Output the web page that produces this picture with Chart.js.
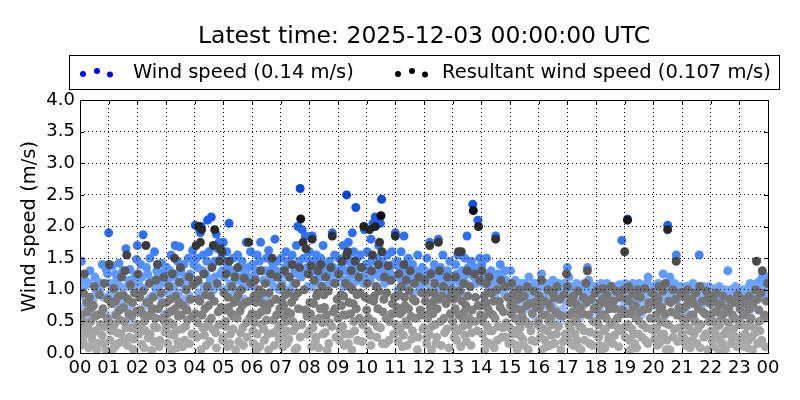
<!DOCTYPE html>
<html lang="en">
<head>
<meta charset="UTF-8">
<title>Wind speed</title>
<script src="https://cdn.jsdelivr.net/npm/chart.js"></script>
<style>
    body { margin: 0; background: #fff; }
    canvas { display: block; }
</style>
</head>
<body>
<canvas id="windChart" width="800" height="400"></canvas>
<script>
const titleText = 'Latest time: 2025-12-03 00:00:00 UTC';
const seriesNames = ['Wind speed (0.14 m/s)', 'Resultant wind speed (0.107 m/s)'];
const hourTicks = ['00','01','02','03','04','05','06','07','08','09','10','11','12',
                   '13','14','15','16','17','18','19','20','21','22','23','00'];

// [hour of day, m/s]
const resultantPoints = [
    [0.03,0.12],[0.08,0.42],[0.12,0.95],[0.15,1.25],[0.2,0.3],[0.25,0.65],[0.3,0.08],[0.33,0.88],[0.38,0.5],[0.42,0.22],[0.47,0.75],[0.5,1.05],[0.55,0.35],[0.6,0.6],[0.63,0.15],[0.68,0.92],[0.72,0.45],[0.77,0.28],[0.8,0.7],[0.85,1.1],[0.9,0.05],[0.95,0.55],
    [1.02,1.4],[1.05,0.2],[1.1,0.78],[1.14,0.45],[1.18,1.02],[1.22,0.1],[1.26,0.6],[1.3,0.32],[1.35,0.9],[1.4,0.52],[1.45,1.2],[1.48,0.18],[1.52,0.72],[1.57,1.3],[1.6,0.4],[1.63,1.55],[1.67,0.85],[1.72,0.25],[1.76,1.08],[1.8,0.58],[1.85,0.06],[1.9,0.95],[1.95,0.38],
    [2.02,1.25],[2.06,0.3],[2.1,0.68],[2.15,0.14],[2.2,0.98],[2.25,0.5],[2.3,1.7],[2.33,0.8],[2.38,0.24],[2.42,1.1],[2.47,0.62],[2.5,0.04],[2.55,0.88],[2.6,0.42],[2.65,1.15],[2.7,1.4],[2.73,0.7],[2.78,0.2],[2.83,0.95],[2.88,0.55],[2.92,1.2],[2.97,0.33],
    [3.02,0.8],[3.06,0.15],[3.1,1.05],[3.14,0.48],[3.18,0.66],[3.22,1.25],[3.27,0.28],[3.3,1.5],[3.34,0.9],[3.38,0.08],[3.43,0.58],[3.47,1.12],[3.5,1.35],[3.55,0.38],[3.6,0.75],[3.65,0.2],[3.7,1.0],[3.75,0.52],[3.8,1.2],[3.85,0.85],[3.9,0.3],[3.95,1.08],
    [4.03,0.62],[4.05,1.7],[4.08,0.25],[4.12,1.15],[4.15,2.0],[4.18,0.82],[4.2,1.75],[4.24,1.95],[4.28,0.4],[4.32,1.25],[4.36,0.7],[4.4,0.12],[4.45,1.05],[4.5,0.5],[4.55,0.9],[4.6,1.35],[4.65,1.7],[4.7,1.95],[4.73,0.32],[4.78,1.1],[4.82,0.65],[4.87,1.45],[4.9,1.65],[4.95,1.6],[4.97,0.2],
    [5.02,0.95],[5.06,0.42],[5.1,1.25],[5.14,0.1],[5.18,0.72],[5.2,1.45],[5.25,0.3],[5.3,1.05],[5.35,0.58],[5.4,1.2],[5.45,0.85],[5.5,1.35],[5.54,0.18],[5.58,0.66],[5.63,1.0],[5.68,0.4],[5.73,1.18],[5.78,0.8],[5.83,0.25],[5.88,1.75],[5.92,0.55],[5.96,1.1],
    [6.03,0.35],[6.07,0.9],[6.11,1.15],[6.15,0.05],[6.2,0.6],[6.25,1.0],[6.3,1.3],[6.34,0.45],[6.38,0.78],[6.43,0.2],[6.47,1.1],[6.52,0.68],[6.56,0.3],[6.6,0.95],[6.65,1.25],[6.7,1.5],[6.74,0.52],[6.78,0.12],[6.83,0.85],[6.88,1.2],[6.92,0.4],[6.97,0.7],
    [7.02,1.05],[7.06,0.28],[7.1,0.75],[7.14,1.3],[7.18,0.5],[7.22,0.15],[7.27,0.95],[7.31,1.2],[7.35,0.62],[7.4,1.4],[7.44,0.35],[7.48,0.88],[7.53,1.1],[7.57,0.08],[7.62,0.7],[7.66,1.35],[7.7,2.12],[7.74,0.45],[7.78,1.75],[7.82,1.0],[7.88,1.65],[7.92,0.58],[7.96,1.25],
    [8.02,0.8],[8.06,1.38],[8.1,1.8],[8.13,0.4],[8.17,1.15],[8.21,0.18],[8.25,0.9],[8.3,1.3],[8.35,0.55],[8.4,1.4],[8.44,1.05],[8.48,0.3],[8.53,0.72],[8.57,1.2],[8.62,0.05],[8.66,0.98],[8.7,0.48],[8.75,1.35],[8.8,1.85],[8.84,0.65],[8.88,1.1],[8.93,0.25],[8.97,0.85],
    [9.03,1.25],[9.07,0.38],[9.1,0.92],[9.14,1.45],[9.18,0.6],[9.22,0.12],[9.26,1.1],[9.3,1.55],[9.34,1.6],[9.38,0.8],[9.42,0.3],[9.46,1.3],[9.5,1.0],[9.55,0.5],[9.6,1.45],[9.64,0.7],[9.68,0.2],[9.72,1.2],[9.77,0.95],[9.82,1.35],[9.86,0.45],[9.9,2.0],[9.95,0.88],
    [10.02,1.1],[10.06,0.55],[10.1,1.95],[10.13,0.28],[10.17,1.3],[10.2,1.55],[10.24,0.82],[10.3,2.0],[10.33,1.05],[10.37,0.42],[10.41,1.4],[10.45,1.75],[10.5,2.17],[10.53,1.6],[10.57,0.65],[10.62,1.2],[10.66,0.15],[10.7,0.95],[10.75,1.38],[10.8,0.5],[10.85,1.15],[10.9,0.78],[10.95,0.3],
    [11.0,1.85],[11.04,0.9],[11.08,0.35],[11.12,1.25],[11.16,0.62],[11.2,1.05],[11.25,0.1],[11.3,1.4],[11.34,0.75],[11.38,1.15],[11.43,0.45],[11.48,0.98],[11.52,1.3],[11.57,0.22],[11.62,0.85],[11.67,1.1],[11.72,0.55],[11.77,0.05],[11.82,1.2],[11.87,0.68],[11.92,0.95],[11.96,0.38],
    [12.03,1.15],[12.07,0.6],[12.11,0.25],[12.15,0.95],[12.2,1.7],[12.24,1.25],[12.28,0.42],[12.33,0.82],[12.37,1.1],[12.42,0.15],[12.46,0.7],[12.5,1.75],[12.54,1.3],[12.58,0.5],[12.63,0.9],[12.68,1.05],[12.72,0.32],[12.77,0.78],[12.82,1.2],[12.87,0.08],[12.92,0.62],[12.96,1.0],
    [13.03,0.85],[13.07,0.4],[13.1,1.2],[13.14,0.2],[13.2,1.6],[13.25,0.98],[13.3,1.6],[13.34,0.55],[13.38,1.1],[13.42,0.28],[13.46,0.75],[13.5,1.3],[13.55,0.45],[13.6,1.05],[13.64,0.12],[13.68,0.68],[13.72,2.25],[13.76,1.25],[13.8,0.88],[13.85,0.35],[13.9,2.0],[13.94,1.15],[13.97,0.6],
    [14.02,1.3],[14.06,0.5],[14.1,0.9],[14.14,0.18],[14.18,1.1],[14.23,0.7],[14.27,1.2],[14.31,0.35],[14.36,0.95],[14.4,0.6],[14.45,0.08],[14.5,1.8],[14.54,1.0],[14.58,0.42],[14.63,0.82],[14.68,1.15],[14.72,0.25],[14.77,0.65],[14.82,1.05],[14.87,0.48],[14.92,0.88],[14.96,0.15],
    [15.02,0.75],[15.06,1.1],[15.1,0.3],[15.14,0.95],[15.18,0.55],[15.22,0.12],[15.27,0.85],[15.32,1.0],[15.36,0.4],[15.4,0.68],[15.45,0.22],[15.5,0.9],[15.55,0.5],[15.6,1.05],[15.64,0.05],[15.68,0.78],[15.73,0.35],[15.78,0.62],[15.83,0.98],[15.88,0.18],[15.92,0.72],[15.96,0.45],
    [16.02,0.9],[16.06,0.25],[16.1,1.15],[16.14,0.6],[16.18,0.38],[16.23,0.82],[16.27,0.1],[16.32,1.0],[16.36,0.5],[16.41,0.72],[16.45,0.28],[16.5,0.95],[16.55,0.15],[16.6,0.65],[16.64,1.05],[16.69,0.42],[16.74,0.85],[16.78,0.05],[16.83,0.58],[16.88,0.92],[16.93,0.3],[16.97,1.25],
    [17.0,1.05],[17.05,0.45],[17.09,0.8],[17.13,0.15],[17.18,0.65],[17.22,0.9],[17.27,0.3],[17.31,0.55],[17.36,0.98],[17.4,0.08],[17.45,0.72],[17.5,0.4],[17.55,0.88],[17.6,0.2],[17.65,1.1],[17.7,1.3],[17.74,0.6],[17.79,0.33],[17.84,0.85],[17.88,0.12],[17.93,0.7],[17.97,0.95],
    [18.02,0.5],[18.06,1.0],[18.1,0.25],[18.15,0.78],[18.2,0.05],[18.24,1.02],[18.29,0.6],[18.33,0.38],[18.38,0.92],[18.42,0.18],[18.47,0.7],[18.52,1.05],[18.56,0.45],[18.6,0.82],[18.65,0.28],[18.7,0.98],[18.74,0.55],[18.79,0.1],[18.84,0.88],[18.88,0.35],[18.93,0.68],[18.97,1.0],
    [19.0,1.6],[19.04,0.42],[19.08,0.85],[19.1,2.1],[19.14,1.05],[19.18,0.2],[19.23,0.62],[19.28,0.95],[19.32,0.3],[19.37,0.75],[19.42,0.08],[19.46,1.0],[19.5,0.5],[19.55,0.88],[19.6,0.25],[19.65,0.68],[19.7,1.02],[19.75,0.4],[19.8,0.15],[19.85,0.8],[19.9,0.55],[19.95,0.95],
    [20.02,0.35],[20.06,0.9],[20.1,0.6],[20.14,0.12],[20.19,1.05],[20.24,0.7],[20.28,0.28],[20.33,0.98],[20.38,0.48],[20.42,1.1],[20.47,0.2],[20.5,1.95],[20.54,0.82],[20.58,0.05],[20.63,0.65],[20.68,1.0],[20.72,0.38],[20.77,0.85],[20.8,1.45],[20.85,0.18],[20.9,0.72],[20.95,0.95],
    [21.02,0.55],[21.06,0.9],[21.1,0.22],[21.15,0.75],[21.2,1.0],[21.24,0.4],[21.29,0.08],[21.34,0.85],[21.38,0.6],[21.43,0.3],[21.48,0.95],[21.52,0.15],[21.57,0.7],[21.62,1.05],[21.66,0.45],[21.71,0.82],[21.76,0.25],[21.8,0.62],[21.85,0.98],[21.9,0.05],[21.94,0.5],[21.98,0.78],
    [22.02,0.35],[22.06,0.88],[22.1,0.1],[22.15,0.65],[22.2,0.95],[22.24,0.42],[22.29,0.75],[22.33,0.2],[22.38,0.55],[22.43,0.9],[22.48,0.3],[22.52,0.05],[22.57,0.7],[22.62,0.48],[22.66,0.85],[22.71,0.15],[22.76,0.6],[22.8,0.38],[22.85,0.8],[22.9,0.25],[22.94,0.92],[22.98,0.5],
    [23.02,0.7],[23.06,0.18],[23.1,0.45],[23.15,0.85],[23.2,0.3],[23.24,0.62],[23.29,0.08],[23.34,0.9],[23.38,0.52],[23.43,0.25],[23.48,0.78],[23.52,0.4],[23.57,1.0],[23.6,1.45],[23.64,0.15],[23.68,0.68],[23.72,0.35],[23.76,0.95],[23.8,1.3],[23.85,0.55],[23.9,0.1],[23.94,0.82],[23.98,1.1],
    // older, slower readings
    [0.01,0.3],[0.06,0.6],[0.11,0.18],[0.17,0.48],[0.23,0.8],[0.28,0.4],[0.35,0.1],[0.4,0.72],[0.45,0.32],[0.52,0.58],[0.58,0.05],[0.66,0.38],[0.74,0.62],[0.82,0.15],[0.88,0.42],[0.97,0.85],
    [1.0,0.5],[1.08,0.35],[1.12,0.05],[1.2,0.45],[1.24,0.82],[1.33,0.15],[1.38,0.68],[1.43,0.3],[1.5,0.92],[1.55,0.5],[1.65,0.12],[1.7,0.62],[1.78,0.4],[1.83,0.8],[1.88,0.22],[1.98,0.66],
    [2.0,0.45],[2.08,0.88],[2.12,0.38],[2.18,0.62],[2.23,0.08],[2.28,0.35],[2.36,0.58],[2.4,0.8],[2.45,0.3],[2.52,0.7],[2.58,0.18],[2.63,0.55],[2.68,0.4],[2.76,0.1],[2.85,0.78],[2.95,0.5],
    [3.0,0.4],[3.04,0.62],[3.12,0.3],[3.16,0.85],[3.2,0.05],[3.25,0.45],[3.32,0.7],[3.36,0.35],[3.41,0.18],[3.45,0.8],[3.53,0.6],[3.58,0.1],[3.68,0.42],[3.73,0.68],[3.82,0.15],[3.92,0.58],
    [4.0,0.3],[4.1,0.48],[4.14,0.85],[4.22,0.05],[4.26,0.6],[4.34,0.28],[4.38,0.92],[4.43,0.42],[4.48,0.75],[4.53,0.18],[4.58,0.55],[4.63,0.38],[4.68,0.82],[4.76,0.08],[4.85,0.45],[4.92,0.72],
    [5.0,0.25],[5.04,0.68],[5.08,0.5],[5.16,0.88],[5.22,0.15],[5.28,0.62],[5.33,0.38],[5.38,0.8],[5.43,0.05],[5.48,0.55],[5.52,0.92],[5.6,0.32],[5.66,0.75],[5.7,0.12],[5.8,0.48],[5.9,0.82],
    [6.0,0.62],[6.05,0.15],[6.09,0.48],[6.13,0.8],[6.18,0.3],[6.22,0.88],[6.27,0.1],[6.32,0.65],[6.36,0.95],[6.41,0.38],[6.5,0.52],[6.58,0.05],[6.63,0.78],[6.76,0.32],[6.86,0.6],[6.95,0.22],
    [7.0,0.45],[7.04,0.82],[7.08,0.1],[7.12,0.58],[7.16,0.92],[7.2,0.35],[7.25,0.65],[7.29,0.22],[7.38,0.8],[7.42,0.5],[7.5,0.05],[7.55,0.42],[7.6,0.95],[7.68,0.25],[7.85,0.68],[7.94,0.3],
    [8.0,0.35],[8.04,0.62],[8.08,0.1],[8.15,0.78],[8.19,0.52],[8.23,0.25],[8.28,0.95],[8.33,0.08],[8.38,0.7],[8.46,0.48],[8.51,0.92],[8.55,0.32],[8.6,0.6],[8.68,0.15],[8.78,0.42],[8.9,0.7],
    [9.0,0.55],[9.05,0.2],[9.12,0.75],[9.16,0.42],[9.2,0.9],[9.24,0.3],[9.28,0.6],[9.36,0.15],[9.4,1.05],[9.44,0.62],[9.48,0.05],[9.53,0.78],[9.58,0.35],[9.66,0.92],[9.75,0.55],[9.84,0.18],
    [10.0,0.68],[10.04,0.35],[10.08,0.85],[10.15,0.12],[10.22,0.5],[10.27,0.9],[10.35,0.25],[10.39,0.7],[10.43,0.98],[10.48,0.4],[10.55,0.15],[10.6,0.85],[10.68,0.55],[10.78,0.2],[10.88,0.62],[10.97,0.88],
    [11.02,0.45],[11.06,0.72],[11.1,0.18],[11.14,0.92],[11.18,0.4],[11.23,0.65],[11.28,0.28],[11.32,0.88],[11.36,0.5],[11.41,0.12],[11.46,0.7],[11.55,0.58],[11.6,0.35],[11.7,0.82],[11.8,0.25],[11.9,0.6],
    [12.0,0.4],[12.05,0.82],[12.09,0.15],[12.13,0.55],[12.18,0.3],[12.22,0.72],[12.26,0.05],[12.31,0.62],[12.35,0.95],[12.4,0.45],[12.44,0.25],[12.52,0.85],[12.6,0.12],[12.7,0.55],[12.8,0.38],[12.9,0.88],
    [13.0,0.5],[13.05,0.25],[13.09,0.7],[13.12,0.92],[13.17,0.35],[13.22,0.6],[13.28,0.1],[13.32,0.82],[13.36,0.42],[13.4,0.65],[13.48,0.18],[13.53,0.9],[13.58,0.55],[13.66,0.32],[13.78,0.5],[13.88,0.75],
    [14.0,0.75],[14.04,0.3],[14.08,0.58],[14.12,0.05],[14.16,0.8],[14.21,0.42],[14.25,0.95],[14.29,0.15],[14.34,0.62],[14.38,0.35],[14.43,0.82],[14.48,0.55],[14.56,0.2],[14.66,0.72],[14.75,0.4],[14.85,0.25],
    [15.0,0.4],[15.04,0.62],[15.08,0.15],[15.12,0.82],[15.16,0.35],[15.2,0.7],[15.25,0.05],[15.3,0.5],[15.34,0.28],[15.38,0.88],[15.43,0.58],[15.48,0.12],[15.58,0.75],[15.66,0.45],[15.76,0.2],[15.86,0.8],
    [16.0,0.5],[16.04,0.72],[16.08,0.4],[16.12,0.05],[16.16,0.82],[16.21,0.2],[16.25,0.6],[16.3,0.35],[16.34,0.78],[16.39,0.12],[16.43,0.55],[16.48,0.45],[16.53,0.88],[16.62,0.3],[16.72,0.6],[16.85,0.18],
    [17.02,0.25],[17.07,0.6],[17.11,0.38],[17.16,0.88],[17.2,0.12],[17.25,0.5],[17.29,0.78],[17.34,0.2],[17.38,0.68],[17.43,0.42],[17.48,0.05],[17.53,0.62],[17.58,0.35],[17.68,0.8],[17.77,0.15],[17.9,0.5],
    [18.0,0.3],[18.04,0.72],[18.08,0.45],[18.13,0.12],[18.17,0.6],[18.22,0.85],[18.27,0.35],[18.31,0.08],[18.36,0.55],[18.4,0.78],[18.45,0.25],[18.5,0.48],[18.58,0.15],[18.68,0.7],[18.77,0.4],[18.9,0.62],
    [19.02,0.25],[19.06,0.62],[19.12,0.45],[19.16,0.82],[19.2,0.05],[19.25,0.38],[19.3,0.72],[19.35,0.15],[19.4,0.55],[19.44,0.9],[19.48,0.3],[19.53,0.65],[19.62,0.45],[19.72,0.2],[19.82,0.7],[19.92,0.38],
    [20.0,0.55],[20.04,0.22],[20.08,0.78],[20.12,0.4],[20.17,0.85],[20.21,0.15],[20.26,0.5],[20.3,0.72],[20.36,0.3],[20.4,0.62],[20.45,0.05],[20.52,0.45],[20.6,0.8],[20.7,0.25],[20.82,0.6],[20.92,0.4],
    [21.0,0.3],[21.04,0.7],[21.08,0.45],[21.13,0.12],[21.18,0.55],[21.22,0.85],[21.27,0.35],[21.32,0.6],[21.36,0.2],[21.41,0.78],[21.46,0.5],[21.55,0.38],[21.64,0.08],[21.74,0.65],[21.83,0.3],[21.92,0.88],
    [22.0,0.6],[22.04,0.2],[22.08,0.5],[22.12,0.82],[22.17,0.3],[22.22,0.65],[22.27,0.05],[22.31,0.45],[22.36,0.78],[22.41,0.15],[22.46,0.62],[22.55,0.35],[22.64,0.72],[22.74,0.25],[22.83,0.55],[22.92,0.1],
    [23.0,0.45],[23.04,0.85],[23.08,0.25],[23.13,0.6],[23.17,0.1],[23.22,0.78],[23.27,0.42],[23.32,0.2],[23.36,0.7],[23.41,0.55],[23.46,0.05],[23.55,0.32],[23.62,0.85],[23.7,0.5],[23.78,0.2],[23.88,0.6]
];

const windPoints = [
    [0.05,1.45],[0.1,0.7],[0.18,1.15],[0.27,0.55],[0.35,1.3],[0.45,0.85],[0.52,1.2],[0.6,0.35],[0.7,1.0],[0.78,1.4],[0.88,0.62],[0.96,1.25],
    [1.0,1.9],[1.07,0.95],[1.12,1.38],[1.2,0.6],[1.28,1.15],[1.36,1.42],[1.43,0.8],[1.5,1.3],[1.6,1.65],[1.65,1.05],[1.74,1.32],[1.82,0.5],[1.9,1.2],[1.97,1.48],
    [2.0,1.7],[2.04,1.1],[2.12,1.4],[2.2,1.87],[2.28,0.75],[2.36,1.25],[2.44,1.5],[2.52,0.9],[2.6,1.6],[2.68,1.3],[2.76,1.05],[2.85,1.42],[2.93,0.6],
    [3.03,1.35],[3.1,0.95],[3.18,1.55],[3.25,1.2],[3.32,1.7],[3.4,1.45],[3.48,1.68],[3.55,1.1],[3.62,1.4],[3.7,0.8],[3.78,1.5],[3.85,1.25],[3.93,1.62],
    [4.02,2.02],[4.06,1.5],[4.1,1.35],[4.17,1.95],[4.2,1.9],[4.23,2.0],[4.3,1.55],[4.38,1.25],[4.45,2.1],[4.5,1.6],[4.58,2.15],[4.62,1.4],[4.7,1.2],[4.75,1.88],[4.8,1.65],[4.85,1.75],[4.93,1.5],[4.97,1.3],
    [5.0,1.75],[5.05,1.45],[5.12,1.6],[5.2,2.05],[5.27,1.3],[5.35,1.5],[5.42,0.95],[5.5,1.55],[5.58,1.2],[5.65,1.45],[5.72,0.85],[5.8,1.75],[5.88,1.35],[5.95,1.6],
    [6.02,1.4],[6.1,1.2],[6.18,1.55],[6.3,1.75],[6.36,1.3],[6.44,0.9],[6.5,1.5],[6.58,1.62],[6.65,1.15],[6.72,1.35],[6.8,1.8],[6.88,1.45],[6.95,1.0],
    [7.02,1.5],[7.1,1.25],[7.18,1.6],[7.25,1.45],[7.33,1.0],[7.4,1.55],[7.48,1.3],[7.55,1.7],[7.6,2.0],[7.68,2.6],[7.75,1.95],[7.8,1.5],[7.86,1.85],[7.92,1.35],[7.98,1.6],
    [8.0,1.6],[8.05,1.45],[8.1,1.85],[8.18,1.3],[8.25,1.55],[8.32,1.1],[8.4,1.5],[8.48,1.7],[8.55,1.35],[8.62,1.05],[8.7,1.45],[8.8,1.9],[8.88,1.55],[8.95,1.25],
    [9.02,1.5],[9.1,1.3],[9.18,1.7],[9.25,1.15],[9.3,2.5],[9.36,1.75],[9.42,1.45],[9.5,1.9],[9.55,1.6],[9.62,2.3],[9.7,1.35],[9.78,1.55],[9.85,1.2],[9.92,1.95],[9.97,1.4],
    [10.02,1.6],[10.08,1.3],[10.15,1.8],[10.22,2.05],[10.3,2.15],[10.36,1.5],[10.42,1.7],[10.48,2.05],[10.52,2.43],[10.58,1.4],[10.65,1.25],[10.72,1.55],[10.8,1.35],[10.88,1.6],[10.95,1.2],
    [11.0,1.9],[11.06,1.45],[11.12,1.2],[11.2,1.6],[11.3,1.85],[11.36,1.3],[11.45,1.5],[11.52,1.1],[11.6,1.4],[11.7,1.25],[11.78,1.55],[11.86,1.0],[11.94,1.35],
    [12.02,1.3],[12.1,1.5],[12.2,1.75],[12.28,1.2],[12.36,1.4],[12.44,1.05],[12.5,1.8],[12.58,1.35],[12.66,1.55],[12.74,1.15],[12.82,1.3],[12.9,1.45],[12.97,0.95],
    [13.02,1.2],[13.1,1.4],[13.18,1.55],[13.26,1.1],[13.34,1.3],[13.42,1.5],[13.5,1.85],[13.58,1.25],[13.65,1.45],[13.7,2.35],[13.78,1.35],[13.88,2.1],[13.95,1.5],
    [14.02,1.4],[14.1,1.2],[14.18,1.5],[14.26,1.05],[14.34,1.3],[14.42,1.15],[14.5,1.85],[14.58,1.25],[14.66,1.4],[14.74,1.0],[14.82,1.3],[14.9,1.1],[14.97,0.85],
    [15.02,1.3],[15.1,1.0],[15.18,1.15],[15.26,0.8],[15.34,1.05],[15.42,0.65],[15.5,1.1],[15.58,0.9],[15.66,1.2],[15.74,0.75],[15.82,1.0],[15.9,0.55],[15.97,0.95],
    [16.02,1.05],[16.1,1.25],[16.18,0.85],[16.26,1.1],[16.34,0.6],[16.42,0.95],[16.5,1.15],[16.58,0.7],[16.66,1.0],[16.74,0.5],[16.82,0.9],[16.9,1.1],[16.97,0.78],
    [17.0,1.35],[17.05,1.2],[17.12,0.9],[17.2,1.05],[17.28,0.7],[17.36,1.0],[17.44,0.55],[17.52,0.95],[17.6,1.1],[17.7,1.35],[17.78,0.85],[17.86,1.0],[17.94,0.65],
    [18.02,1.05],[18.1,0.8],[18.18,1.1],[18.26,0.6],[18.34,0.95],[18.42,1.05],[18.5,0.7],[18.58,1.0],[18.66,0.5],[18.74,0.9],[18.82,1.08],[18.9,1.78],[18.96,0.75],
    [19.02,1.1],[19.1,2.12],[19.16,1.0],[19.24,0.7],[19.32,1.05],[19.4,0.85],[19.5,1.1],[19.58,0.6],[19.66,1.0],[19.74,0.8],[19.82,1.2],[19.9,0.95],[19.97,0.55],
    [20.02,1.05],[20.1,0.75],[20.18,1.1],[20.26,0.9],[20.34,1.25],[20.42,0.6],[20.5,2.02],[20.55,1.1],[20.62,0.8],[20.7,1.0],[20.8,1.55],[20.88,0.7],[20.95,1.05],
    [21.02,1.0],[21.1,0.65],[21.18,1.05],[21.26,0.85],[21.34,1.0],[21.42,0.55],[21.5,0.95],[21.6,1.55],[21.66,0.75],[21.74,1.05],[21.82,0.9],[21.9,0.6],[21.97,1.0],
    [22.02,0.95],[22.1,0.7],[22.18,1.02],[22.26,0.5],[22.34,0.9],[22.42,0.75],[22.5,1.0],[22.6,1.3],[22.66,0.65],[22.74,0.95],[22.82,0.55],[22.9,0.85],[22.97,1.0],
    [23.02,0.8],[23.1,1.0],[23.18,0.6],[23.26,0.9],[23.34,1.05],[23.42,0.7],[23.5,0.95],[23.6,1.1],[23.66,0.85],[23.74,1.15],[23.82,1.25],[23.9,0.9],[23.97,1.2],
    // older readings
    [0.02,0.9],[0.14,1.05],[0.22,0.78],[0.31,1.1],[0.41,0.6],[0.56,0.95],[0.65,1.12],[0.83,0.88],[0.92,1.32],
    [1.03,1.1],[1.16,0.85],[1.24,1.25],[1.32,0.7],[1.4,1.05],[1.55,0.9],[1.7,1.15],[1.78,0.75],[1.86,1.02],
    [2.08,0.95],[2.16,1.2],[2.24,1.02],[2.32,1.35],[2.4,0.85],[2.48,1.15],[2.56,0.7],[2.64,1.02],[2.72,1.25],[2.8,0.9],[2.9,1.12],[2.97,1.3],
    [3.06,1.15],[3.14,1.3],[3.22,0.9],[3.28,1.05],[3.36,1.25],[3.44,0.95],[3.52,1.3],[3.58,0.85],[3.66,1.2],[3.74,1.05],[3.82,0.9],[3.9,1.15],[3.97,1.4],
    [4.04,1.1],[4.13,0.95],[4.27,1.3],[4.34,1.05],[4.42,1.45],[4.54,1.15],[4.66,1.0],[4.72,1.45],[4.82,1.05],[4.9,1.25],
    [5.03,1.2],[5.09,1.0],[5.16,1.35],[5.24,1.1],[5.31,0.9],[5.39,1.3],[5.46,1.15],[5.54,1.0],[5.62,1.35],[5.69,1.1],[5.76,1.25],[5.84,1.05],[5.92,1.2],
    [6.06,1.05],[6.14,1.3],[6.22,0.95],[6.26,1.45],[6.4,1.15],[6.47,1.3],[6.54,0.85],[6.62,1.25],[6.69,1.45],[6.76,1.05],[6.84,1.3],[6.92,1.2],
    [7.05,1.1],[7.14,1.35],[7.22,1.0],[7.29,1.2],[7.37,1.4],[7.44,1.1],[7.52,0.95],[7.58,1.25],[7.64,1.45],[7.72,1.2],[7.83,1.3],[7.95,1.05],
    [8.03,1.25],[8.08,1.05],[8.14,1.4],[8.22,1.15],[8.29,1.45],[8.36,1.2],[8.44,1.3],[8.52,1.05],[8.59,1.4],[8.66,1.25],[8.74,1.15],[8.84,1.35],[8.92,1.1],
    [9.05,1.2],[9.14,1.4],[9.21,1.05],[9.28,1.3],[9.33,1.5],[9.4,1.2],[9.46,1.35],[9.53,1.1],[9.59,1.25],[9.66,1.5],[9.74,1.15],[9.82,1.35],[9.89,1.1],[9.95,1.25],
    [10.05,1.35],[10.12,1.15],[10.18,1.45],[10.26,1.25],[10.34,1.05],[10.4,1.3],[10.46,1.2],[10.55,1.45],[10.62,1.1],[10.69,1.3],[10.76,1.15],[10.84,1.25],[10.92,1.4],
    [11.03,1.2],[11.09,1.0],[11.16,1.35],[11.24,1.15],[11.33,1.05],[11.4,1.25],[11.49,1.3],[11.56,1.15],[11.64,0.95],[11.74,1.2],[11.82,1.3],[11.9,1.1],[11.98,1.25],
    [12.06,1.1],[12.14,1.25],[12.24,1.0],[12.32,1.3],[12.4,1.15],[12.48,0.95],[12.54,1.2],[12.62,1.1],[12.7,1.3],[12.78,1.0],[12.86,1.2],[12.94,1.1],
    [13.06,1.0],[13.14,1.25],[13.22,1.15],[13.3,0.95],[13.38,1.2],[13.46,1.1],[13.54,1.35],[13.62,1.05],[13.74,1.2],[13.82,1.1],[13.92,1.3],
    [14.06,1.1],[14.14,1.25],[14.22,0.95],[14.3,1.15],[14.38,1.2],[14.46,0.9],[14.54,1.1],[14.62,1.05],[14.7,1.2],[14.78,0.95],[14.86,1.15],[14.94,1.05],
    [15.06,0.9],[15.14,1.05],[15.22,0.75],[15.3,0.95],[15.38,1.1],[15.46,0.85],[15.54,1.0],[15.62,0.7],[15.7,1.05],[15.78,0.9],[15.86,1.1],[15.94,0.8],
    [16.06,0.9],[16.14,1.05],[16.22,0.75],[16.3,0.95],[16.38,1.05],[16.46,0.8],[16.54,1.0],[16.62,0.85],[16.7,1.1],[16.78,0.95],[16.86,0.7],[16.94,1.0],
    [17.08,1.05],[17.16,0.8],[17.24,0.95],[17.32,1.1],[17.4,0.8],[17.48,1.05],[17.56,0.75],[17.64,1.0],[17.74,1.15],[17.82,0.9],[17.9,1.05],[17.98,0.8],
    [18.06,0.95],[18.14,0.7],[18.22,1.0],[18.3,0.85],[18.38,1.1],[18.46,0.9],[18.54,0.8],[18.62,1.05],[18.7,0.85],[18.78,1.0],[18.86,0.9],[18.98,1.05],
    [19.06,0.95],[19.2,0.85],[19.28,1.1],[19.36,0.9],[19.44,1.05],[19.54,0.8],[19.62,1.05],[19.7,0.9],[19.78,1.1],[19.86,0.8],[19.94,1.05],
    [20.06,0.95],[20.14,0.85],[20.22,1.05],[20.3,0.8],[20.38,1.0],[20.46,0.9],[20.58,1.2],[20.66,0.95],[20.74,1.1],[20.84,0.85],[20.92,1.0],
    [21.06,0.9],[21.14,1.05],[21.22,0.75],[21.3,0.95],[21.38,1.1],[21.46,0.85],[21.54,1.05],[21.7,0.9],[21.78,1.0],[21.86,0.8],[21.94,1.05],
    [22.06,0.85],[22.14,1.0],[22.22,0.8],[22.3,1.05],[22.38,0.7],[22.46,0.95],[22.54,0.85],[22.7,1.0],[22.78,0.8],[22.86,1.05],[22.94,0.9],
    [23.06,0.95],[23.14,0.75],[23.22,1.0],[23.3,0.8],[23.38,1.1],[23.46,0.9],[23.54,0.85],[23.64,1.05],[23.7,0.95],[23.86,1.1],[23.94,1.0]
];

// colour ramps: darker = faster (speed in m/s -> rgb)
const grayStops = [[0, 172], [0.4, 162], [0.6, 130], [1.0, 112], [1.5, 72], [2.0, 35], [2.2, 10]];
const blueStops = [[0, [212, 226, 255]], [0.5, [170, 202, 255]], [1.0, [115, 168, 255]],
                   [1.5, [70, 136, 255]], [2.0, [32, 100, 245]], [2.5, [8, 70, 228]]];

function ramp(stops, v) {
    if (v <= stops[0][0]) return stops[0][1];
    for (let i = 1; i < stops.length; i++) {
        if (v <= stops[i][0]) {
            const [v0, c0] = stops[i - 1], [v1, c1] = stops[i];
            const t = (v - v0) / (v1 - v0);
            if (Array.isArray(c0)) return c0.map((c, k) => c + (c1[k] - c) * t);
            return c0 + (c1 - c0) * t;
        }
    }
    return stops[stops.length - 1][1];
}
function grayFor(v) {
    const g = Math.round(ramp(grayStops, v));
    return `rgb(${g},${g},${g})`;
}
function blueFor(v) {
    const c = ramp(blueStops, v).map(Math.round);
    return `rgb(${c[0]},${c[1]},${c[2]})`;
}

Chart.defaults.font.family = 'DejaVu Sans';
Chart.defaults.color = '#000';

const framePlugin = {
    id: 'frame',
    afterDraw(chart) {
        const ctx = chart.ctx;
        const a = chart.chartArea;
        const xs = chart.scales.x, ys = chart.scales.y;
        ctx.save();
        ctx.strokeStyle = '#000';
        ctx.lineWidth = 1;
        ctx.strokeRect(Math.round(a.left) + 0.5, Math.round(a.top) + 0.5,
                       Math.round(a.right - a.left), Math.round(a.bottom - a.top));
        // inward ticks like matplotlib
        ctx.beginPath();
        xs.ticks.forEach(t => {
            const px = Math.round(xs.getPixelForValue(t.value)) + 0.5;
            ctx.moveTo(px, a.bottom); ctx.lineTo(px, a.bottom - 4);
            ctx.moveTo(px, a.top); ctx.lineTo(px, a.top + 4);
        });
        ys.ticks.forEach(t => {
            const py = Math.round(ys.getPixelForValue(t.value)) + 0.5;
            ctx.moveTo(a.left, py); ctx.lineTo(a.left + 4, py);
            ctx.moveTo(a.right, py); ctx.lineTo(a.right - 4, py);
        });
        ctx.stroke();

        // title
        ctx.fillStyle = '#000';
        ctx.font = '23.5px "DejaVu Sans"';
        ctx.textAlign = 'center';
        ctx.textBaseline = 'alphabetic';
        ctx.fillText(titleText, (a.left + a.right) / 2, 43);

        // legend box
        ctx.strokeRect(69.5, 55.5, 710, 34);
        const dots = (x0, color) => {
            ctx.fillStyle = color;
            [[0, 74], [14, 71], [27, 74.5]].forEach(([dx, y]) => {
                ctx.beginPath();
                ctx.arc(x0 + dx, y, 3, 0, Math.PI * 2);
                ctx.fill();
            });
        };
        dots(83, '#0000ff');
        dots(398, '#000000');
        ctx.fillStyle = '#000';
        ctx.font = '19.5px "DejaVu Sans"';
        ctx.textAlign = 'left';
        ctx.textBaseline = 'middle';
        ctx.fillText(seriesNames[0], 133, 73);
        ctx.fillText(seriesNames[1], 442, 73);
        ctx.restore();
    }
};

const ctx = document.getElementById('windChart').getContext('2d');
new Chart(ctx, {
    type: 'scatter',
    data: {
        datasets: [
            {
                label: seriesNames[1],
                data: resultantPoints.map(p => ({x: p[0], y: p[1]})),
                backgroundColor: c => grayFor(c.raw ? c.raw.y : 0),
                pointRadius: 4.5,
                pointBorderWidth: 0,
                clip: 0,
                order: 0
            },
            {
                label: seriesNames[0],
                data: windPoints.map(p => ({x: p[0], y: p[1]})),
                backgroundColor: c => blueFor(c.raw ? c.raw.y : 0),
                pointRadius: 4.5,
                pointBorderWidth: 0,
                clip: 0,
                order: 1
            }
        ]
    },
    options: {
        responsive: false,
        animation: false,
        devicePixelRatio: 1,
        layout: { padding: { top: 100, right: 32, left: 0, bottom: 0 } },
        plugins: {
            legend: { display: false },
            tooltip: { enabled: false }
        },
        events: [],
        scales: {
            x: {
                type: 'linear',
                min: 0,
                max: 24,
                afterFit: s => { s.height = 47; },
                ticks: {
                    stepSize: 1,
                    autoSkip: false,
                    maxRotation: 0,
                    padding: 5,
                    font: { size: 18 },
                    callback: v => hourTicks[v]
                },
                grid: { color: '#000', lineWidth: 1, drawTicks: false, z: 1 },
                border: { display: false, dash: [1, 3] }
            },
            y: {
                min: 0,
                max: 4,
                afterFit: s => { s.width = 80; },
                ticks: {
                    stepSize: 0.5,
                    padding: 5,
                    font: { size: 18 },
                    callback: v => v.toFixed(1)
                },
                grid: { color: '#000', lineWidth: 1, drawTicks: false, z: 1 },
                border: { display: false, dash: [1, 3] },
                title: {
                    display: true,
                    text: 'Wind speed (m/s)',
                    font: { size: 19.5 },
                    padding: { top: 18, bottom: 0 }
                }
            }
        }
    },
    plugins: [framePlugin]
});
</script>
</body>
</html>
